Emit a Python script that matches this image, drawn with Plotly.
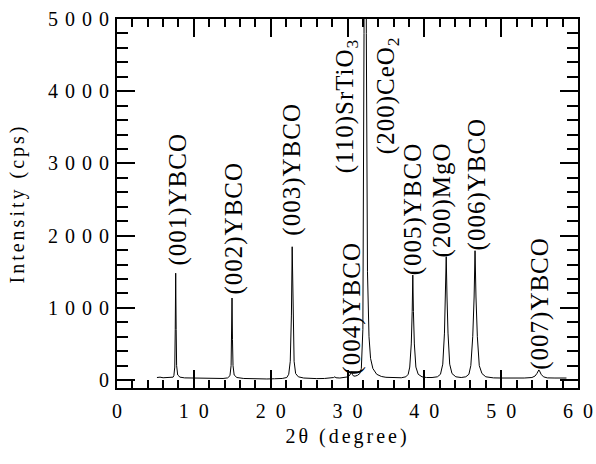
import plotly.graph_objects as go

# XRD theta-2theta scan of a YBCO film on CeO2 / SrTiO3 / MgO
two_theta = [
    5.2, 5.6, 6.0, 6.5, 7.0, 7.3,
    7.40, 7.52, 7.58, 7.64, 7.70, 7.76, 7.90, 8.2,
    8.8, 9.5, 10.2, 11.0, 12.0, 13.0, 13.8, 14.4,
    14.70, 14.85, 14.92, 14.97, 15.03, 15.10, 15.25, 15.6,
    16.5, 17.5, 18.5, 19.5, 20.5, 21.5, 22.1,
    22.35, 22.55, 22.70, 22.80, 22.90, 23.05, 23.25, 23.6,
    24.3, 25.0, 26.0, 27.0, 27.8, 28.2, 28.35, 28.5, 29.0, 29.6, 30.1,
    30.30, 30.45, 30.55, 30.65, 30.80, 31.0, 31.3, 31.6,
    31.8, 32.0, 32.15, 32.30, 32.45, 32.6, 32.8, 33.0, 33.3, 33.8, 34.4,
    35.0, 36.0, 37.0, 37.6, 37.9,
    38.10, 38.30, 38.42, 38.50, 38.58, 38.70, 38.90, 39.2, 39.7,
    40.3, 41.0, 41.7, 42.1,
    42.40, 42.62, 42.75, 42.85, 42.95, 43.08, 43.30, 43.6, 44.1,
    44.8, 45.4, 45.8,
    46.05, 46.30, 46.48, 46.60, 46.72, 46.90, 47.15, 47.5, 48.0,
    49.0, 50.0, 51.0, 52.0, 53.0, 54.0, 54.4,
    54.65, 54.80, 54.90, 55.00, 55.20, 55.5,
    56.0, 57.0, 58.0, 58.5,
]
intensity = [
    35, 40, 32, 36, 35, 40,
    60, 180, 700, 1480, 700, 200, 70, 40,
    30, 28, 22, 25, 20, 18, 22, 30,
    60, 200, 560, 1136, 560, 200, 70, 35,
    22, 18, 20, 15, 18, 22, 35,
    80, 260, 900, 1846, 900, 260, 90, 45,
    28, 22, 20, 22, 28, 35, 45, 32, 28, 35, 45,
    70, 110, 115, 75, 55, 55, 65, 90,
    160, 700, 4800, 20000, 4800, 1500, 600, 300, 160, 80, 50,
    38, 30, 32, 45, 80,
    180, 500, 950, 1454, 950, 500, 180, 80, 45,
    35, 35, 45, 80,
    220, 650, 1150, 1708, 1150, 650, 220, 90, 45,
    35, 45, 80,
    200, 600, 1150, 1791, 1150, 600, 200, 90, 45,
    30, 28, 25, 25, 28, 35, 55,
    90, 130, 140, 125, 80, 45,
    30, 28, 30, 28,
]

# reflection labels: text, 2theta of label centre, intensity at label start
peak_labels = [
    "(001)YBCO", "(002)YBCO", "(003)YBCO", "(004)YBCO",
    "(110)SrTiO<sub>3</sub>", "(200)CeO<sub>2</sub>",
    "(005)YBCO", "(200)MgO", "(006)YBCO", "(007)YBCO",
]
label_x = [7.94, 15.23, 22.79, 30.6, 29.9, 35.16, 38.5, 42.28, 46.84, 55.08]
label_y = [1620, 1219, 2036, 111, 2909, 3158, 1482, 1731, 1828, 180]

x_ticks = [0, 10, 20, 30, 40, 50, 60]
# spaced-out digits of the 2theta tick labels
x_ticktext = ["0", "1\u20020", "2\u20020", "3\u20020", "4\u20020", "5\u20020", "6\u20020"]
y_ticks = [0, 1000, 2000, 3000, 4000, 5000]

serif = "Liberation Serif"

fig = go.Figure()
fig.add_trace(go.Scatter(
    x=two_theta, y=intensity, mode="lines",
    line=dict(color="black", width=1),
    hoverinfo="skip", showlegend=False,
))

for txt, lx, ly in zip(peak_labels, label_x, label_y):
    fig.add_annotation(
        x=lx, y=ly, xref="x", yref="y", text=txt, showarrow=False,
        textangle=-90, xanchor="center", yanchor="bottom",
        font=dict(family=serif, size=25, color="black"),
    )

axis_common = dict(
    ticks="inside", mirror="allticks", showline=True, linecolor="black",
    linewidth=2, tickcolor="black", tickwidth=2, ticklen=18,
    showgrid=False, zeroline=False, automargin=False,
    tickfont=dict(family=serif, size=20, color="black"),
)

fig.update_layout(
    width=596, height=464,
    margin=dict(l=117, r=18, t=19, b=76),
    paper_bgcolor="white", plot_bgcolor="white",
    font=dict(family=serif, color="black"),
    xaxis=dict(
        range=[0, 60], tickvals=x_ticks, ticktext=x_ticktext,
        minor=dict(dtick=2, ticks="inside", ticklen=8, tickwidth=2, tickcolor="black"),
        ticklabelstandoff=4,
        title=dict(text="2θ (degree)", font=dict(family=serif, size=20, color="black"), standoff=8),
        **axis_common,
    ),
    yaxis=dict(
        range=[-110, 5000], tickvals=y_ticks,
        minor=dict(dtick=200, ticks="inside", ticklen=11, tickwidth=2, tickcolor="black"),
        ticklabelstandoff=-5,
        title=dict(text="Intensity (cps)", font=dict(family=serif, size=20, color="black"), standoff=46),
        **axis_common,
    ),
)

# wide, typewriter-like spacing of the lettering
spacing_css = (
    ".ytick text{letter-spacing:7px}"
    ".g-xtitle text,.g-ytitle text{letter-spacing:3px}"
    "text.annotation-text{letter-spacing:1px}"
)
post_js = (
    "var s=document.createElement('style');"
    "s.textContent='" + spacing_css + "';"
    "document.head.appendChild(s);"
)

fig.write_html("out.html", post_script=post_js)
